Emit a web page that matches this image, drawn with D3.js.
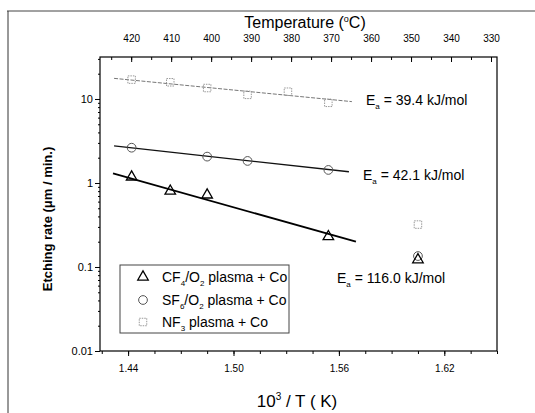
<!DOCTYPE html>
<html>
<head>
<meta charset="utf-8">
<script src="https://cdn.jsdelivr.net/npm/d3@7"></script>
<style>
  html, body { margin: 0; padding: 0; background: #fff; }
  svg { display: block; font-family: Arial, "Liberation Sans", sans-serif; }
</style>
</head>
<body>
<svg id="chart" width="535" height="413"></svg>
<script>
// ---- data ----
const tempTicks = [420, 410, 400, 390, 380, 370, 360, 350, 340, 330];
const xTickLabels = [1.44, 1.50, 1.56, 1.62];
const yTickLabels = [0.01, 0.1, 1, 10];

const cf4X = [1.442, 1.464, 1.485, 1.554, 1.605];
const cf4Y = [1.18, 0.80, 0.72, 0.23, 0.122];
const sf6X = [1.442, 1.485, 1.508, 1.554, 1.605];
const sf6Y = [2.63, 2.06, 1.83, 1.43, 0.135];
const nf3X = [1.442, 1.464, 1.485, 1.508, 1.531, 1.554, 1.605];
const nf3Y = [17.0, 15.8, 13.5, 11.2, 12.2, 9.0, 0.32];

const cf4FitX = [1.4314, 1.5697];
const cf4FitY = [1.30, 0.20];
const sf6FitX = [1.432, 1.5657];
const sf6FitY = [2.76, 1.36];
const nf3FitX = [1.432, 1.5674];
const nf3FitY = [17.6, 9.3];

const seriesNames = ["CF4/O2 plasma + Co", "SF6/O2 plasma + Co", "NF3 plasma + Co"];
const eaLabels = ["39.4", "42.1", "116.0"];

// ---- layout ----
const L = 100, R = 497, T = 57, B = 351;
const svg = d3.select("#chart");

const x = d3.scaleLinear().domain([1.424, 1.65]).range([L, R]);
const y = d3.scaleLog().domain([0.01, 31.6]).range([B, T]);
const tTop = d3.scaleLinear().domain([427.8, 328.5]).range([L, R]);

// scan border lines
svg.append("line").attr("x1", 7).attr("x2", 535).attr("y1", 11).attr("y2", 11)
  .attr("stroke", "#444").attr("stroke-width", 1);
svg.append("line").attr("x1", 8).attr("x2", 8).attr("y1", 11).attr("y2", 413)
  .attr("stroke", "#333").attr("stroke-width", 1);

// ---- axes ----
function styleAxis(g, fs) {
  g.select(".domain").remove();
  g.selectAll("line").attr("stroke", "#000").attr("stroke-width", 1);
  g.selectAll("text").attr("fill", "#000").style("font-size", fs + "px")
    .style("font-family", "Arial, 'Liberation Sans', sans-serif");
}

// bottom axis
const xMinor = d3.range(0, 16).map(i => +(1.425 + i * 0.015).toFixed(3)).filter(v => v >= 1.424 && v <= 1.65);
svg.append("g").attr("transform", `translate(0,${B})`)
  .call(d3.axisBottom(x).tickValues(xMinor).tickSize(3).tickFormat(""))
  .call(g => styleAxis(g, 10));
svg.append("g").attr("transform", `translate(0,${B})`)
  .call(d3.axisBottom(x).tickValues(xTickLabels).tickSize(5).tickPadding(9).tickFormat(d3.format(".2f")))
  .call(g => styleAxis(g, 10));

// left axis
const yMinor = [];
[0.01, 0.1, 1, 10].forEach(d => { for (let k = 2; k <= 9; k++) { const v = d * k; if (v <= 31.6) yMinor.push(v); } });
svg.append("g").attr("transform", `translate(${L},0)`)
  .call(d3.axisLeft(y).tickValues(yMinor).tickSize(2).tickFormat(""))
  .call(g => styleAxis(g, 11));
svg.append("g").attr("transform", `translate(${L},0)`)
  .call(d3.axisLeft(y).tickValues(yTickLabels).tickSize(5).tickPadding(2).tickFormat(d => String(d)))
  .call(g => styleAxis(g, 11));

// top temperature axis (ticks pointing inward)
const tMinor = d3.range(425, 325, -5);
svg.append("g").attr("transform", `translate(0,${T})`)
  .call(d3.axisTop(tTop).tickValues(tMinor).tickSizeInner(-3).tickSizeOuter(0).tickFormat(""))
  .call(g => styleAxis(g, 10));
svg.append("g").attr("transform", `translate(0,${T})`)
  .call(d3.axisTop(tTop).tickValues(tempTicks).tickSizeInner(-5).tickSizeOuter(0).tickPadding(15).tickFormat(d3.format("d")))
  .call(g => styleAxis(g, 10));

// frame
svg.append("rect").attr("x", L).attr("y", T).attr("width", R - L).attr("height", B - T)
  .attr("fill", "none").attr("stroke", "#000").attr("stroke-width", 1.2);

// ---- fit lines ----
const line = d3.line().x(d => x(d[0])).y(d => y(d[1]));
svg.append("path").datum(d3.zip(nf3FitX, nf3FitY)).attr("d", line)
  .attr("fill", "none").attr("stroke", "#777").attr("stroke-width", 1).attr("stroke-dasharray", "4,1.5");
svg.append("path").datum(d3.zip(sf6FitX, sf6FitY)).attr("d", line)
  .attr("fill", "none").attr("stroke", "#111").attr("stroke-width", 1.3);
svg.append("path").datum(d3.zip(cf4FitX, cf4FitY)).attr("d", line)
  .attr("fill", "none").attr("stroke", "#000").attr("stroke-width", 1.8);

// ---- markers ----
const triSym = d3.symbol().type(d3.symbolTriangle).size(48);
const cirSym = d3.symbol().type(d3.symbolCircle).size(60);
const sqSym = d3.symbol().type(d3.symbolSquare).size(56);

function drawMarkers(xs, ys, sym, stroke, sw, dash) {
  svg.append("g").selectAll("path").data(d3.zip(xs, ys)).join("path")
    .attr("transform", d => `translate(${x(d[0])},${y(d[1])})`)
    .attr("d", sym).attr("fill", "none").attr("stroke", stroke)
    .attr("stroke-width", sw).attr("stroke-dasharray", dash || null);
}
drawMarkers(nf3X, nf3Y, sqSym, "#999", 1, "1.5,1");
drawMarkers(sf6X, sf6Y, cirSym, "#555", 1);
drawMarkers(cf4X, cf4Y, triSym, "#000", 1.3);

// ---- annotations ----
function eaText(xp, yp, val) {
  const t = svg.append("text").attr("x", xp).attr("y", yp).style("font-size", "14px").attr("fill", "#000");
  t.append("tspan").text("E");
  t.append("tspan").attr("dy", 4).style("font-size", "8px").text("a");
  t.append("tspan").attr("dy", -4).text(" = " + val + " kJ/mol");
}
eaText(366, 105, eaLabels[0]);
eaText(363, 180, eaLabels[1]);
eaText(337, 283, eaLabels[2]);

// ---- titles ----
const tt = svg.append("text").attr("x", 305).attr("y", 28).attr("text-anchor", "middle")
  .style("font-size", "16px").attr("fill", "#000");
tt.append("tspan").text("Temperature (");
tt.append("tspan").attr("dy", -6).style("font-size", "9px").text("o");
tt.append("tspan").attr("dy", 6).text("C)");

const xt = svg.append("text").attr("x", 297).attr("y", 407).attr("text-anchor", "middle")
  .style("font-size", "17px").attr("fill", "#000");
xt.append("tspan").text("10");
xt.append("tspan").attr("dy", -7).style("font-size", "10px").text("3");
xt.append("tspan").attr("dy", 7).text(" / T ( K)");

svg.append("text").attr("transform", "translate(52,219) rotate(-90)").attr("text-anchor", "middle")
  .style("font-size", "13px").style("font-weight", "bold").attr("fill", "#000")
  .text("Etching rate (\u03bcm / min.)");

// ---- legend ----
const lg = svg.append("g");
lg.append("rect").attr("x", 120).attr("y", 265).attr("width", 169).attr("height", 68)
  .attr("fill", "#fff").attr("stroke", "#444").attr("stroke-width", 1);
const rowsY = [277, 300, 322];
const legSyms = [[triSym, "#000", 1.3, null], [cirSym, "#555", 1, null], [sqSym, "#999", 1, "1.5,1"]];
const parts = [
  [["CF", 0], ["4", 1], ["/O", 0], ["2", 1], [" plasma + Co", 0]],
  [["SF", 0], ["6", 1], ["/O", 0], ["2", 1], [" plasma + Co", 0]],
  [["NF", 0], ["3", 1], [" plasma + Co", 0]]
];
seriesNames.forEach((name, i) => {
  const s = legSyms[i];
  lg.append("path").attr("transform", `translate(143,${rowsY[i]})`).attr("d", s[0])
    .attr("fill", "none").attr("stroke", s[1]).attr("stroke-width", s[2]).attr("stroke-dasharray", s[3]);
  const t = lg.append("text").attr("x", 162).attr("y", rowsY[i] + 5).style("font-size", "14px").attr("fill", "#000");
  let sub = 0;
  parts[i].forEach(p => {
    const ts = t.append("tspan").text(p[0]);
    if (p[1] && !sub) { ts.attr("dy", 4).style("font-size", "8px"); sub = 1; }
    else if (!p[1] && sub) { ts.attr("dy", -4); sub = 0; }
    else if (p[1]) ts.style("font-size", "8px");
  });
});
</script>
</body>
</html>
